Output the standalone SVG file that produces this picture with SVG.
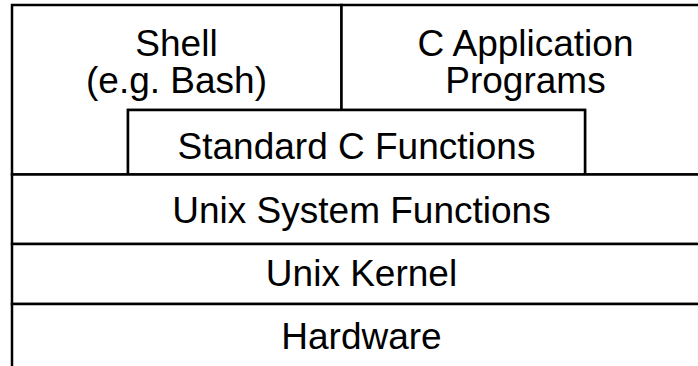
<svg xmlns="http://www.w3.org/2000/svg" width="698" height="366" viewBox="0 0 698 366">
<style>
.box{fill:#fff;stroke:#000;stroke-width:2.5}
.t{font-family:"Liberation Sans",Arial,sans-serif;font-size:37px;fill:#000;text-anchor:middle}
</style>
<rect width="698" height="366" fill="#fff"/>
<g id="shell">
<path class="box" d="M12,5 H341.5 V110 H128 V174.5 H12 Z"/>
<text class="t" x="176.5" y="56">Shell</text>
<text class="t" x="176.5" y="93">(e.g. Bash)</text>
</g>
<g id="c-apps">
<path class="box" d="M341.5,5 H712 V174.5 H585 V110 H341.5 Z"/>
<text class="t" x="525.5" y="56">C Application</text>
<text class="t" x="525.5" y="93">Programs</text>
</g>
<g id="std-c">
<rect class="box" x="128" y="110" width="457" height="64.5"/>
<text class="t" x="356.5" y="159">Standard C Functions</text>
</g>
<g id="unix-sys">
<rect class="box" x="12" y="174.5" width="700" height="69.5"/>
<text class="t" x="361.5" y="223">Unix System Functions</text>
</g>
<g id="kernel">
<rect class="box" x="12" y="244" width="700" height="60"/>
<text class="t" x="361.5" y="286">Unix Kernel</text>
</g>
<g id="hardware">
<rect class="box" x="12" y="304" width="700" height="80"/>
<text class="t" x="361.5" y="349">Hardware</text>
</g>
<g id="connectors"/>
</svg>
